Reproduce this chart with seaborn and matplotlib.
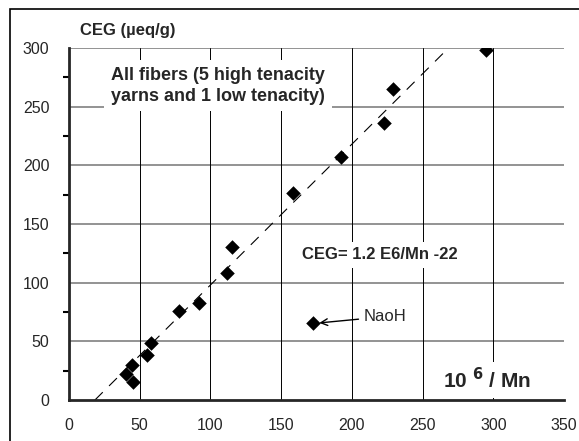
import matplotlib
matplotlib.use("Agg")
import matplotlib.pyplot as plt
import seaborn as sns
import pandas as pd
import numpy as np
from matplotlib.ticker import MultipleLocator
from matplotlib.patches import Rectangle

# Data
inv_mn = [294.7, 229.4, 223, 192, 158.6, 115.3, 111.7, 91.6, 77.8, 58.1, 55.3, 44.3, 40.3, 45]
ceg = [298.6, 265.4, 236.3, 207, 176.6, 130, 108.6, 82.4, 76, 49, 38.6, 29.5, 21.9, 15.3]
naoh_x = [172.8]
naoh_y = [65.7]
fit_slope = 1.2
fit_intercept = -22
fit_x = [18.3, 268.3]

x_ticks = [0, 50, 100, 150, 200, 250, 300, 350]
y_ticks = [0, 50, 100, 150, 200, 250, 300]

sns.set_style("white")
plt.rcParams['font.family'] = ['Liberation Sans', 'DejaVu Sans']

fig = plt.figure(figsize=(5.79, 4.41), dpi=100)
ax = fig.add_axes([69/579, 1-400/441, (564-69)/579, (400-48)/441])

# outer border
fig.patches.append(Rectangle((10/579, -0.05), 1.2, 1 - 9/441 + 0.05, transform=fig.transFigure,
                             fill=False, edgecolor='black', linewidth=1.2, zorder=0))

df = pd.DataFrame({"x": inv_mn + naoh_x, "y": ceg + naoh_y})

# grid
for yv in y_ticks[1:]:
    ax.axhline(yv, color='#808080', linewidth=1.2, zorder=1)
for xv in x_ticks[1:]:
    ax.axvline(xv, color='black', linewidth=0.7, zorder=1)

fx = np.array(fit_x)
ax.plot(fx, fit_slope * fx + fit_intercept, color='black', linewidth=0.8,
        dashes=(10, 8), zorder=2)

sns.scatterplot(data=df, x="x", y="y", marker='D', s=55, color='black',
                edgecolor='black', linewidth=0, ax=ax, zorder=5)

ax.set_xlim(0, 350)
ax.set_ylim(0, 300)
ax.set_xticks(x_ticks)
ax.set_yticks(y_ticks)
ax.yaxis.set_minor_locator(MultipleLocator(25))
ax.set_xlabel("")
ax.set_ylabel("")
for s in ['top', 'right']:
    ax.spines[s].set_visible(False)
ax.spines['left'].set_linewidth(2)
ax.spines['bottom'].set_linewidth(2)
ax.spines['left'].set_zorder(6)
ax.spines['bottom'].set_zorder(6)
ax.tick_params(axis='both', which='major', direction='inout', length=10, width=2,
               labelsize=11.5, color='black')
ax.tick_params(axis='y', which='major', pad=9)
ax.tick_params(axis='x', which='major', pad=8)
ax.tick_params(axis='y', which='minor', direction='out', length=4, width=1.5, color='black', left=True)
ax.set_facecolor('none')

# texts
fig.text(80/579, 1-30/441, "CEG (µeq/g)", fontsize=12, fontweight='bold', va='center', ha='left')
ax.text(105.4, 267.7, "All fibers (5 high tenacity\nyarns and 1 low tenacity)", fontsize=13,
        fontweight='bold', ha='center', va='center', linespacing=1.25,
        bbox=dict(facecolor='white', edgecolor='none', pad=5), zorder=4)
ax.text(164.8, 123.6, "CEG= 1.2 E6/Mn -22", fontsize=12, fontweight='bold', ha='left', va='center',
        bbox=dict(facecolor='white', edgecolor='none', pad=4), zorder=4)
ax.annotate("NaoH", xy=(177, 65.7), xytext=(208, 71), fontsize=12, ha='left', va='center',
            arrowprops=dict(arrowstyle='->', color='black', lw=1, shrinkA=1, shrinkB=0), zorder=4)
ax.text(295.6, 17, r"10 $^{\mathbf{6}}$ / Mn", fontsize=15, fontweight='bold', ha='center', va='center',
        bbox=dict(facecolor='white', edgecolor='none', pad=4), zorder=4)

fig.savefig("out.png", dpi=100)
